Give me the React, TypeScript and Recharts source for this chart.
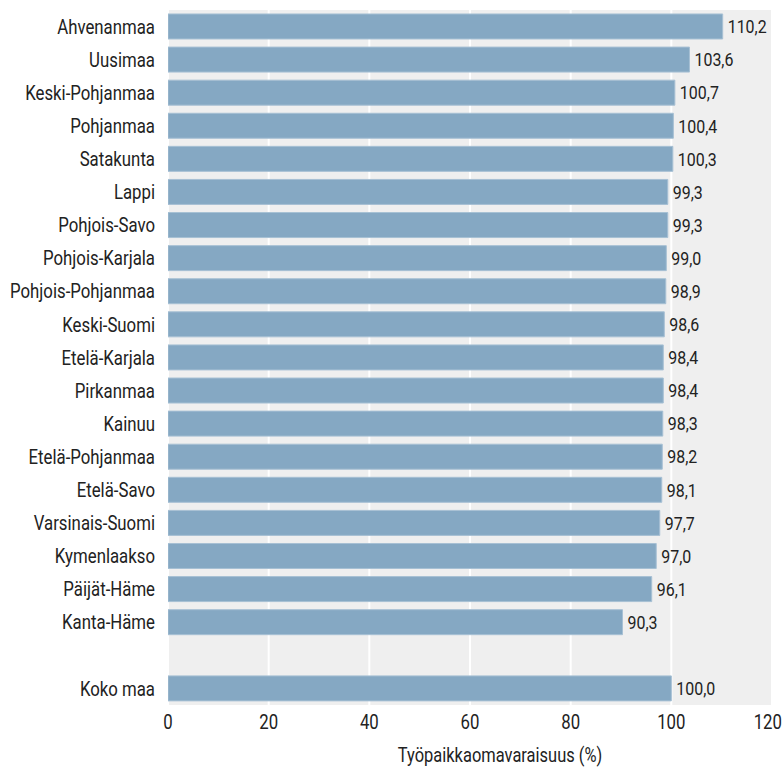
import React from 'react';
import { BarChart, Bar, XAxis, YAxis, CartesianGrid, LabelList, Label } from 'recharts';

const regions = [
  'Ahvenanmaa', 'Uusimaa', 'Keski-Pohjanmaa', 'Pohjanmaa', 'Satakunta', 'Lappi',
  'Pohjois-Savo', 'Pohjois-Karjala', 'Pohjois-Pohjanmaa', 'Keski-Suomi', 'Etelä-Karjala',
  'Pirkanmaa', 'Kainuu', 'Etelä-Pohjanmaa', 'Etelä-Savo', 'Varsinais-Suomi', 'Kymenlaakso',
  'Päijät-Häme', 'Kanta-Häme', ' ', 'Koko maa',
];
const values: (number | null)[] = [
  110.2, 103.6, 100.7, 100.4, 100.3, 99.3, 99.3, 99.0, 98.9, 98.6, 98.4,
  98.4, 98.3, 98.2, 98.1, 97.7, 97.0, 96.1, 90.3, null, 100.0,
];
const xTicks = [0, 20, 40, 60, 80, 100, 120];
const xTitle = 'Työpaikkaomavaraisuus (%)';

const data = regions.map((r, i) => ({ name: r, value: values[i] }));

const FONT = 'Roboto, "Noto Sans", sans-serif';
const TEXT = '#222222';
const SX = 0.84;

const fmt = (v: any) => (v == null ? '' : Number(v).toFixed(1).replace('.', ','));

const CText = ({ x, y, anchor, size, dy, children }: any) => (
  <text
    transform={`translate(${x},${y}) scale(${SX},1)`}
    x={0}
    y={0}
    dy={dy}
    textAnchor={anchor}
    fontFamily={FONT}
    fontSize={size}
    fill={TEXT}
  >
    {children}
  </text>
);

const YTick = (props: any) => {
  const { x, y, payload } = props;
  return (
    <CText x={x} y={y} anchor="end" size={20} dy="0.355em">
      {payload.value}
    </CText>
  );
};

const XTick = (props: any) => {
  const { x, y, payload } = props;
  const last = payload.value === xTicks[xTicks.length - 1];
  return (
    <CText x={last ? 782 : x} y={y} anchor={last ? 'end' : 'middle'} size={20} dy="0.71em">
      {payload.value}
    </CText>
  );
};

const ValueLabel = (props: any) => {
  const { x, y, width, height, value } = props;
  if (value == null) return null;
  return (
    <CText x={Number(x) + Number(width) + 5} y={Number(y) + Number(height) / 2} anchor="start" size={19} dy="0.355em">
      {fmt(value)}
    </CText>
  );
};

const AxisTitle = () => (
  <CText x={500} y={762} anchor="middle" size={19.6} dy={0}>
    {xTitle}
  </CText>
);

export default function App() {
  return (
    <div style={{ position: 'absolute', left: 0, top: 0, background: '#fff' }}>
      <BarChart
        width={783}
        height={768}
        data={data}
        layout="vertical"
        margin={{ top: 10, right: 11, bottom: 0, left: 0 }}
        barCategoryGap="12%"
      >
        <CartesianGrid horizontal={false} stroke="#ffffff" strokeWidth={2} fill="#efefef" />
        <XAxis
          type="number"
          domain={[0, 120]}
          ticks={xTicks}
          allowDataOverflow
          axisLine={false}
          tickLine={false}
          tickMargin={4}
          height={63}
          tick={<XTick />}
        >
          <Label content={<AxisTitle />} />
        </XAxis>
        <YAxis
          type="category"
          dataKey="name"
          width={168}
          axisLine={false}
          tickLine={false}
          tickMargin={7}
          interval={0}
          tick={<YTick />}
        />
        <Bar dataKey="value" fill="#85a8c3" stroke="#a7c0d4" strokeWidth={1} isAnimationActive={false}>
          <LabelList dataKey="value" content={<ValueLabel />} />
        </Bar>
      </BarChart>
    </div>
  );
}
